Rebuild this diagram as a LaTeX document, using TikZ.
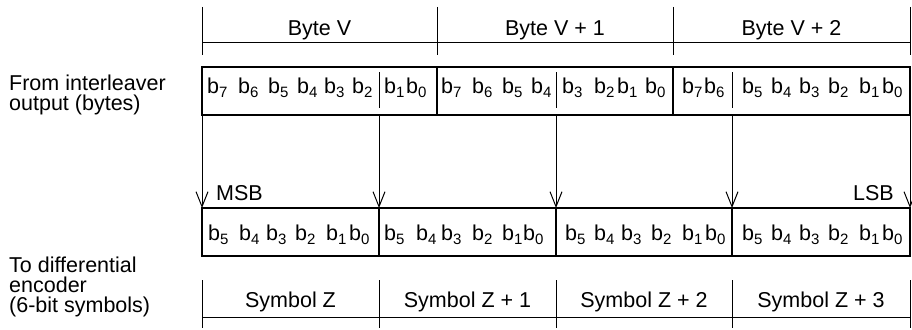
\documentclass[tikz,border=0pt]{standalone}
\usepackage{fontspec}
\setmainfont{Liberation Sans}
\usetikzlibrary{arrows.meta}
\newcommand{\bitb}[1]{b\raisebox{-4pt}{\fontsize{15}{15}\selectfont #1}}
\begin{document}
\begin{tikzpicture}[x=1pt,y=-1pt,font=\fontsize{21.5}{24}\selectfont,
  thinln/.style={line width=1pt},
  thickln/.style={line width=2.6pt},
  lbl/.style={inner sep=0pt,anchor=base},
  txt/.style={inner sep=0pt,anchor=base west},
  bit/.style={inner sep=0pt,anchor=base west},
  flow/.style={line width=1pt,-{Straight Barb[length=15pt,width=12pt,line width=1pt]}}]
\useasboundingbox (0,0) rectangle (912,329);

% left labels
\node[txt] (l1) at (9,90) {From interleaver};
\node[txt] (l2) at (9,110) {output (bytes)};
\node[txt] (l3) at (9,272) {To differential};
\node[txt] (l4) at (9,292) {encoder};
\node[txt] (l5) at (9,312) {(6-bit symbols)};

% top axis (bytes)
\draw[thinln] (202,43) -- (910,43);
\foreach \x in {202,437,673,910} \draw[thinln] (\x,7) -- (\x,55);
\node[lbl] (byv) at (319.5,36) {Byte V};
\node[lbl] (byv1) at (555,36) {Byte V + 1};
\node[lbl] (byv2) at (791.5,36) {Byte V + 2};

% top box
\draw[thickln] (202,67) rectangle (910,115);
\draw[thickln] (437,67) -- (437,115);
\draw[thickln] (673,67) -- (673,115);
\foreach \x in {379,556,732} \draw[thinln] (\x,72) -- (\x,108);

% top bits
\foreach \x/\b [count=\i] in {208/7,239/6,269/5,298/4,325/3,353/2,385/1,407/0,
  442/7,473/6,503/5,532/4,563/3,595/2,618/1,646/0,
  683/7,705/6,743/5,772/4,800/3,829/2,860/1,883/0}
  \node[bit] (tb\i) at (\x-1,93) {\bitb{\b}};

% bottom box
\draw[thickln] (202,208) rectangle (910,256);
\foreach \x in {379,556,732} \draw[thickln] (\x,208) -- (\x,256);

% bottom bits
\foreach \x/\b [count=\i] in {209/5,240/4,267/3,296/2,327/1,350/0,
  385/5,417/4,442/3,473/2,503/1,524/0,
  566/5,595/4,622/3,652/2,683/1,706/0,
  743/5,772/4,800/3,829/2,860/1,883/0}
  \node[bit] (sb\i) at (\x-1,240) {\bitb{\b}};

% connectors
\foreach \x [count=\i] in {202,379,556,732,910}{
  \coordinate (u\i) at (\x,115);
  \coordinate (d\i) at (\x,208);
  \draw[flow] (u\i) -- (d\i);
}

\node[txt] (msb) at (216,200) {MSB};
\node[inner sep=0pt,anchor=base east] (lsb) at (894,200) {LSB};

% bottom axis (symbols)
\draw[thinln] (202,317) -- (910,317);
\foreach \x in {202,379,556,732,910} \draw[thinln] (\x,280) -- (\x,328);
\node[lbl] (sz) at (290.5,307) {Symbol Z};
\node[lbl] (sz1) at (467.5,307) {Symbol Z + 1};
\node[lbl] (sz2) at (644,307) {Symbol Z + 2};
\node[lbl] (sz3) at (821,307) {Symbol Z + 3};
\end{tikzpicture}
\end{document}
